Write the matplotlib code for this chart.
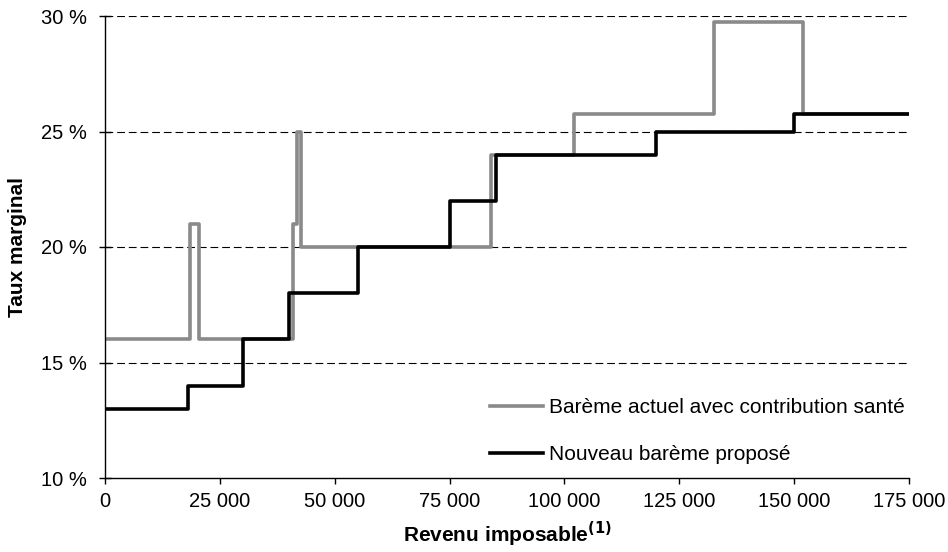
import matplotlib
matplotlib.use("Agg")
import matplotlib.pyplot as plt
from matplotlib.ticker import FuncFormatter

# ============================================================
# Data
# ============================================================

# Barème actuel avec contribution santé: breakpoints (revenu) and rate (%)
ACTUEL_X = [0, 18500, 20500, 41000, 41800, 42700, 84000, 102000, 132500, 152000, 175000]
ACTUEL_Y = [16, 21, 16, 21, 25, 20, 24, 25.75, 29.75, 25.75, 25.75]

# Nouveau barème proposé
NOUVEAU_X = [0, 18000, 30000, 40000, 55000, 75000, 85000, 120000, 150000, 175000]
NOUVEAU_Y = [13, 14, 16, 18, 20, 22, 24, 25, 25.75, 25.75]

LABEL_ACTUEL = "Barème actuel avec contribution santé"
LABEL_NOUVEAU = "Nouveau barème proposé"

X_TICKS = [0, 25000, 50000, 75000, 100000, 125000, 150000, 175000]
Y_TICKS = [10, 15, 20, 25, 30]
GRID_Y = [15, 20, 25, 30]


# ============================================================
# Plot
# ============================================================

plt.rcParams["font.family"] = ["Liberation Sans", "DejaVu Sans"]
plt.rcParams["font.size"] = 15

fig = plt.figure(figsize=(9.48, 5.52), dpi=100)
ax = fig.add_axes([105 / 948, 1 - 478 / 552, (909 - 105) / 948, (478 - 16) / 552])

for yv in GRID_Y:
    ax.axhline(yv, color="black", lw=0.8, linestyle=(0, (7, 3.5)), zorder=1)

ax.step(ACTUEL_X, ACTUEL_Y, where="post", color="#8a8a8a", lw=2.6,
        label=LABEL_ACTUEL, zorder=2)
ax.step(NOUVEAU_X, NOUVEAU_Y, where="post", color="black", lw=2.6,
        label=LABEL_NOUVEAU, zorder=3)

ax.set_xlim(0, 175000)
ax.set_ylim(10, 30)
ax.set_xticks(X_TICKS)
ax.set_yticks(Y_TICKS)
ax.xaxis.set_major_formatter(
    FuncFormatter(lambda v, p: f"{int(v):,}".replace(",", " ")))
ax.yaxis.set_major_formatter(FuncFormatter(lambda v, p: f"{int(v)} %"))

for side in ["top", "right"]:
    ax.spines[side].set_visible(False)
for side in ["left", "bottom"]:
    ax.spines[side].set_linewidth(1.0)

ax.tick_params(axis="y", direction="inout", length=8.6, width=1, pad=9,
               labelsize=14.5)
ax.tick_params(axis="x", direction="out", length=4.3, width=1, pad=6,
               labelsize=14.5)

ax.set_ylabel("Taux marginal", fontweight="bold", labelpad=10)
ax.set_xlabel(r"Revenu imposable$^{\mathbf{(1)}}$", fontweight="bold", labelpad=6)

ax.legend(loc="lower right", bbox_to_anchor=(1 - 4 / 804, 14 / 462),
          frameon=False, borderpad=0, borderaxespad=0,
          handlelength=2.55, handletextpad=0.3, labelspacing=1.35)

fig.savefig("out.png", dpi=100)
